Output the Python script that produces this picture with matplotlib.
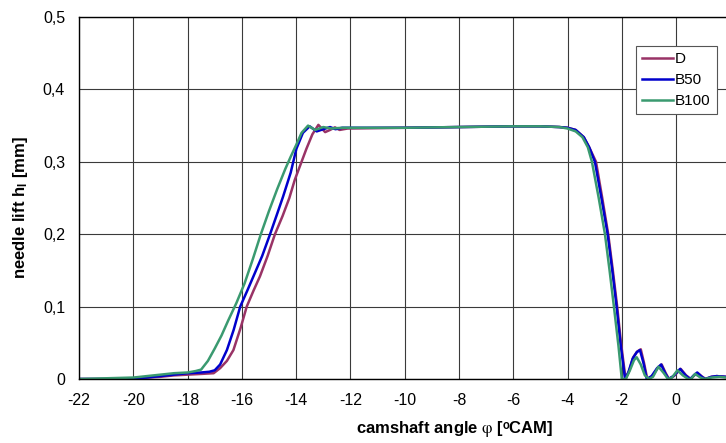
import matplotlib
matplotlib.use("Agg")
import matplotlib.pyplot as plt

plt.rcParams['font.family'] = ['Liberation Sans', 'DejaVu Sans']
plt.rcParams['mathtext.fontset'] = 'stix'

# needle lift curves
x_d = [-22, -21, -20, -19.5, -19, -18.5, -18, -17.5, -17.04, -16.8,
       -16.55, -16.31, -16.05, -15.82, -15.57, -15.33, -15.05, -14.78, -14.5, -14.25,
       -14.05, -13.8, -13.62, -13.4, -13.18, -12.93, -12.75, -12.57, -12.4, -12.1,
       -10, -8, -6, -5, -4.3, -4.0, -3.7, -3.4, -3.2, -2.95,
       -2.72, -2.5, -2.33, -2.17, -2.03, -1.86, -1.72, -1.58, -1.43, -1.3,
       -1.18, -1.06, -0.88, -0.68, -0.53, -0.38, -0.26, -0.08, 0.17, 0.37,
       0.54, 0.67, 0.8, 0.97, 1.09, 1.3, 1.5, 1.85]
y_d = [0, 0, 0.001, 0.002, 0.003, 0.005, 0.006, 0.007, 0.008, 0.015,
       0.025, 0.04, 0.07, 0.1, 0.122, 0.142, 0.17, 0.2, 0.225, 0.25,
       0.275, 0.3, 0.318, 0.338, 0.351, 0.341, 0.344, 0.3476, 0.344, 0.346,
       0.347, 0.348, 0.349, 0.349, 0.348, 0.347, 0.344, 0.334, 0.32, 0.3,
       0.25, 0.2, 0.15, 0.1, 0.05, 0.0, 0.012, 0.03, 0.038, 0.041,
       0.022, 0.0, 0.004, 0.015, 0.02, 0.008, 0.0, 0.004, 0.014, 0.005,
       0.0, 0.005, 0.008, 0.003, 0.0, 0.003, 0.004, 0.003]

x_b50 = [-22, -21, -20, -19.5, -19, -18.5, -18, -17.5, -17.2, -17.0,
         -16.8, -16.55, -16.3, -16.06, -15.8, -15.57, -15.25, -14.96, -14.7, -14.48,
         -14.2, -13.99, -13.75, -13.5, -13.24, -13.0, -12.75, -12.55, -12.3, -12.0,
         -10, -8, -6, -5, -4.3, -4.0, -3.7, -3.4, -3.2, -2.99,
         -2.75, -2.52, -2.35, -2.19, -2.05, -1.88, -1.75, -1.6, -1.45, -1.33,
         -1.2, -1.08, -0.9, -0.7, -0.55, -0.4, -0.28, -0.1, 0.15, 0.35,
         0.52, 0.65, 0.78, 0.95, 1.07, 1.3, 1.5, 1.85]
y_b50 = [0, 0, 0.001, 0.002, 0.004, 0.006, 0.008, 0.009, 0.01, 0.012,
         0.02, 0.04, 0.068, 0.1, 0.122, 0.142, 0.17, 0.2, 0.228, 0.252,
         0.285, 0.318, 0.34, 0.349, 0.342, 0.345, 0.348, 0.345, 0.347, 0.347,
         0.347, 0.348, 0.349, 0.349, 0.348, 0.347, 0.344, 0.334, 0.32, 0.3,
         0.25, 0.2, 0.15, 0.1, 0.05, 0.0, 0.01, 0.028, 0.037, 0.04,
         0.022, 0.0, 0.004, 0.015, 0.02, 0.008, 0.0, 0.004, 0.014, 0.005,
         0.0, 0.005, 0.009, 0.003, 0.0, 0.003, 0.004, 0.003]

x_b100 = [-22, -21, -20, -19.5, -19, -18.5, -18, -17.7, -17.5, -17.25,
          -17.0, -16.75, -16.5, -16.2, -15.9, -15.6, -15.3, -15.0, -14.7, -14.4,
          -14.2, -14.0, -13.8, -13.56, -13.3, -13.0, -12.7, -12.3, -12.0, -10,
          -8, -6, -5, -4.3, -4.0, -3.7, -3.45, -3.25, -3.1, -2.85,
          -2.62, -2.45, -2.29, -2.12, -2.0, -1.85, -1.7, -1.55, -1.45, -1.3,
          -1.15, -1.0, -0.85, -0.65, -0.45, -0.3, -0.15, 0.05, 0.25, 0.45,
          0.55, 0.7, 0.9, 1.05, 1.3, 1.6, 1.85]
y_b100 = [0, 0.001, 0.002, 0.004, 0.006, 0.008, 0.009, 0.011, 0.013, 0.025,
          0.042, 0.06, 0.081, 0.105, 0.132, 0.165, 0.2, 0.232, 0.262, 0.29,
          0.307, 0.323, 0.34, 0.35, 0.344, 0.348, 0.346, 0.347, 0.347, 0.347,
          0.348, 0.349, 0.349, 0.348, 0.346, 0.342, 0.334, 0.32, 0.3, 0.25,
          0.2, 0.15, 0.1, 0.045, 0.0, 0.0, 0.012, 0.026, 0.03, 0.02,
          0.005, 0.0, 0.003, 0.017, 0.008, 0.0, 0.002, 0.012, 0.005, 0.0,
          0.0, 0.007, 0.002, 0.0, 0.002, 0.003, 0.002]

x_ticks = list(range(-22, 1, 2))
y_ticks = [0, 0.1, 0.2, 0.3, 0.4, 0.5]
y_tick_labels = ['0', '0,1', '0,2', '0,3', '0,4', '0,5']


def main():
    fig = plt.figure(figsize=(7.26, 4.43), dpi=100)
    ax = fig.add_axes([79 / 726, 64 / 443, 1 - 79 / 726, 362 / 443])

    ax.plot(x_d, y_d, color='#993366', lw=1.8, label='D', solid_joinstyle='round')
    ax.plot(x_b50, y_b50, color='#0000cc', lw=1.8, label='B50', solid_joinstyle='round')
    ax.plot(x_b100, y_b100, color='#3a9a70', lw=1.8, label='B100', solid_joinstyle='round')

    ax.set_xlim(-22, 1.84)
    ax.set_ylim(0, 0.5)
    ax.set_xticks(x_ticks)
    ax.set_xticklabels([str(t) for t in x_ticks])
    ax.set_yticks(y_ticks)
    ax.set_yticklabels(y_tick_labels)
    ax.tick_params(length=0, labelsize=11.5, pad=10)
    ax.grid(True, color='#3a3a3a', lw=0.8)
    ax.set_axisbelow(True)
    ax.spines['right'].set_visible(False)
    for s in ['left', 'bottom', 'top']:
        ax.spines[s].set_color('black')
        ax.spines[s].set_linewidth(1.0)

    fig.text(455 / 726, 1 - 429 / 443, 'camshaft angle $\\mathrm{\\varphi}$ [ᵒCAM]',
             ha='center', va='center', fontsize=12, fontweight='bold')
    fig.text(21 / 726, 1 - 207 / 443, 'needle lift h$_{\\mathregular{l}}$ [mm]',
             ha='center', va='center', rotation=90, fontsize=12, fontweight='bold')

    leg = ax.legend(loc='upper left', bbox_to_anchor=(636 / 726, 1 - 46 / 443),
                    bbox_transform=fig.transFigure, borderaxespad=0, fancybox=False,
                    fontsize=11, handlelength=2.0, handletextpad=0.15,
                    labelspacing=0.45, borderpad=0.4, framealpha=1)
    leg.get_frame().set_edgecolor('#555555')
    leg.get_frame().set_linewidth(0.8)

    plt.savefig('out.png', dpi=100)


if __name__ == "__main__":
    main()
